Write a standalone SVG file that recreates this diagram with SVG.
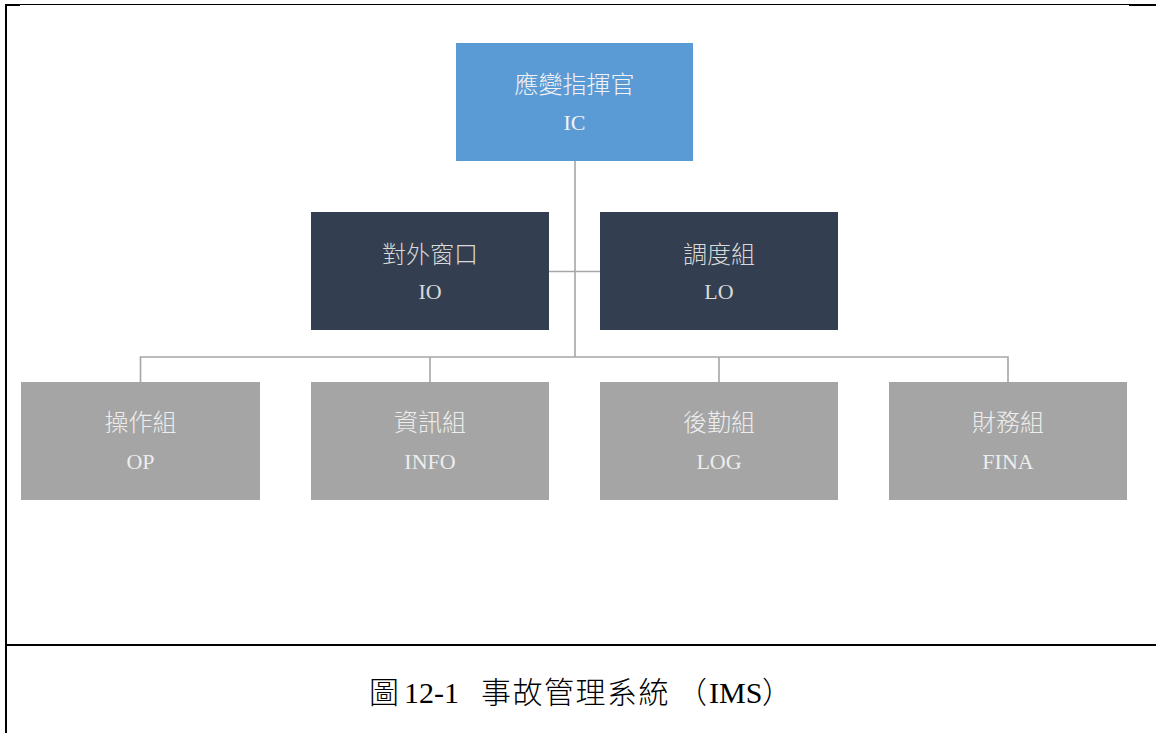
<svg xmlns="http://www.w3.org/2000/svg" width="1156" height="733" viewBox="0 0 1156 733">
<style>
.zh{font-family:"Noto Sans CJK TC","Noto Sans CJK SC",sans-serif;font-size:24px;font-weight:300;text-anchor:middle}
.en{font-family:"Liberation Serif",serif;font-size:22px;text-anchor:middle}
.blue{fill:#5B9BD5}
.dark{fill:#333F50}
.gray{fill:#A5A5A5}
.t1{fill:#F2F2F2}
.t2{fill:#D9D9D9}
.t3{fill:#EDEDED}
.conn{stroke:#A6A6A6;stroke-width:1.6;fill:none}
.border{stroke:#000;fill:none}
.capzh{font-family:"Noto Sans CJK TC","Noto Sans CJK SC",sans-serif;font-size:30px;font-weight:300;fill:#000}
.capen{font-family:"Liberation Serif",serif;font-size:30px;fill:#000}
</style>
<rect width="1156" height="733" fill="#fff"/>
<g id="frame">
<line class="border" x1="5" y1="4.5" x2="1156" y2="4.5" stroke-width="1"/>
<line class="border" x1="5" y1="5" x2="20" y2="5" stroke-width="2"/>
<line class="border" x1="1129" y1="5" x2="1156" y2="5" stroke-width="2"/>
<line class="border" x1="6" y1="4" x2="6" y2="733" stroke-width="2"/>
<line class="border" x1="6" y1="645" x2="1156" y2="645" stroke-width="2"/>
</g>
<g id="connectors">
<line class="conn" x1="575" y1="161" x2="575" y2="357"/>
<line class="conn" x1="549" y1="271.5" x2="600" y2="271.5"/>
<polyline class="conn" points="140.5,382 140.5,357 1008,357 1008,382"/>
<line class="conn" x1="430" y1="357" x2="430" y2="382"/>
<line class="conn" x1="719" y1="357" x2="719" y2="382"/>
</g>
<g id="IC">
<rect class="blue" x="456" y="43" width="237" height="118"/>
<text class="zh t1" x="574.5" y="93">應變指揮官</text>
<text class="en t1" x="574.5" y="130">IC</text>
</g>
<g id="IO">
<rect class="dark" x="311" y="212" width="238" height="118"/>
<text class="zh t2" x="430" y="263">對外窗口</text>
<text class="en t2" x="430" y="299">IO</text>
</g>
<g id="LO">
<rect class="dark" x="600" y="212" width="238" height="118"/>
<text class="zh t2" x="719" y="263">調度組</text>
<text class="en t2" x="719" y="299">LO</text>
</g>
<g id="OP">
<rect class="gray" x="21" y="382" width="239" height="118"/>
<text class="zh t3" x="140.5" y="431">操作組</text>
<text class="en t3" x="140.5" y="469">OP</text>
</g>
<g id="INFO">
<rect class="gray" x="311" y="382" width="238" height="118"/>
<text class="zh t3" x="430" y="431">資訊組</text>
<text class="en t3" x="430" y="469">INFO</text>
</g>
<g id="LOG">
<rect class="gray" x="600" y="382" width="238" height="118"/>
<text class="zh t3" x="719" y="431">後勤組</text>
<text class="en t3" x="719" y="469">LOG</text>
</g>
<g id="FINA">
<rect class="gray" x="889" y="382" width="238" height="118"/>
<text class="zh t3" x="1008" y="431">財務組</text>
<text class="en t3" x="1008" y="469">FINA</text>
</g>
<g id="caption">
<text y="703"><tspan class="capzh" x="369">圖</tspan><tspan class="capen" x="404">12-1</tspan><tspan class="capzh" x="481" letter-spacing="1.5">事故管理系統</tspan><tspan class="capzh" x="677">（</tspan><tspan class="capen" x="709">IMS</tspan><tspan class="capzh" x="762">）</tspan></text>
</g>
</svg>
